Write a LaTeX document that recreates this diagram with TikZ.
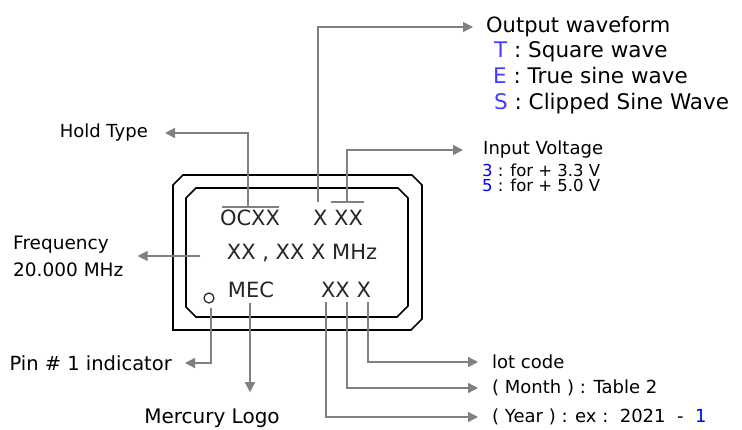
\documentclass[tikz,border=0pt]{standalone}
\usepackage{fontspec}
\setmainfont{DejaVu Sans}
\usepackage{xcolor}
\usepackage{tikz}
\usetikzlibrary{positioning,arrows.meta}
\definecolor{leadgray}{RGB}{128,128,128}
\definecolor{codeblue}{RGB}{70,60,255}
\definecolor{digitblue}{RGB}{0,0,255}

\begin{document}
\begin{tikzpicture}[x=1pt, y=-1pt,
		lead/.style={draw=leadgray, line width=1.4pt},
		tip/.style={lead, -{Triangle[length=10pt, width=10pt]}},
		case/.style={draw=black, line width=1.7pt},
		chiptxt/.style={inner sep=0pt, text=black!85, font=\fontsize{21}{21}\selectfont},
		lbl/.style={inner sep=0pt, font=\fontsize{18}{18}\selectfont},
	]
		\useasboundingbox (0, 0) rectangle (742, 430);

		% 外壳
		\draw[case] (173, 330) -- (173, 185) -- (183, 175) -- (412, 175) -- (422, 185) -- (422, 319) -- (411, 330) -- cycle;
		\draw[case] (186, 307) -- (186, 198) -- (196, 188) -- (398, 188) -- (408, 198) -- (408, 306) -- (397, 317) -- (196, 317) -- cycle;

		% 印字
		\node[chiptxt] (model) at (250, 218) {OCXX};
		\node[chiptxt] (wave) at (338, 218) {X XX};
		\node[chiptxt] (freq) at (302, 253) {XX , XX X MHz};
		\node[chiptxt] (logo) at (251, 290) {MEC};
		\node[chiptxt] (lot) at (346, 290) {XX X};
		\node[draw=black!85, circle, line width=1.2pt, minimum size=10pt, inner sep=0pt] (pin) at (209, 298) {};

		% 标注
		\node[lbl, anchor=east] (hold) at (148, 133) {Hold Type};
		\node[lbl, anchor=west, align=left, font=\fontsize{18.5}{27}\selectfont] (freqlbl) at (13, 256) {Frequency\\20.000 MHz};
		\node[lbl, anchor=east, font=\fontsize{19.5}{20}\selectfont] (pinlbl) at (172, 363) {Pin \# 1 indicator};
		\node[lbl, anchor=base, font=\fontsize{20}{20}\selectfont] (logolbl) at (212, 424) {Mercury Logo};
		\node[lbl, anchor=west] (lotlbl) at (492, 362) {lot code};
		\node[lbl, anchor=west] (month) at (492, 388) {( Month ) : Table 2};
		\node[lbl, anchor=west] (year) at (492, 417) {( Year ) : ex :\ \ 2021\ \ -\ \ \textcolor{digitblue}{1}};
		\node[lbl, anchor=west, font=\fontsize{21}{21}\selectfont] (outlbl) at (486, 27) {Output waveform};
		\node[lbl, anchor=base west, font=\fontsize{21.5}{21}\selectfont] (tsq) at (494, 58) {\textcolor{codeblue}{T} : Square wave};
		\node[lbl, anchor=base west, font=\fontsize{21.5}{21}\selectfont] (esin) at (493, 84) {\textcolor{codeblue}{E} : True sine wave};
		\node[lbl, anchor=base west, font=\fontsize{21.5}{21}\selectfont] (sclip) at (494, 110) {\textcolor{codeblue}{S} : Clipped Sine Wave};
		\node[lbl, anchor=west] (inlbl) at (483, 150) {Input Voltage};
		\node[lbl, anchor=base west, font=\fontsize{16.5}{17}\selectfont] (v33) at (482, 177) {\textcolor{digitblue}{3} : for + 3.3 V};
		\node[lbl, anchor=base west, font=\fontsize{16.5}{17}\selectfont] (v50) at (482, 192) {\textcolor{digitblue}{5} : for + 5.0 V};

		% 引线
		\coordinate (htpt) at (248, 207);
		\coordinate (fqpt) at (200, 256);
		\coordinate (pinpt) at (211, 308);
		\coordinate (logopt) at (250, 303);
		\coordinate (yrpt) at (326, 302);
		\coordinate (monpt) at (347, 302);
		\coordinate (lotpt) at (368, 302);
		\coordinate (wvpt) at (318, 202);
		\coordinate (vinpt) at (347, 202);

		\draw[lead] (222, 207) -- (279, 207);
		\draw[lead] (331, 202) -- (364, 202);

		\draw[tip, shorten >=17pt] (htpt) |- (hold);
		\draw[tip, shorten >=14pt] (fqpt) -- (fqpt -| freqlbl.east);
		\draw[tip, shorten >=13pt] (pinpt) |- (pinlbl);
		\draw[tip, shorten >=17pt] (logopt) -- (logopt |- logolbl.north);
		\draw[tip, shorten >=14pt] (lotpt) |- (lotlbl);
		\draw[tip, shorten >=14pt] (monpt) |- (month);
		\draw[tip, shorten >=14pt] (yrpt) |- (year);
		\draw[tip, shorten >=13pt] (wvpt) |- (outlbl);
		\draw[tip, shorten >=20pt] (vinpt) |- (inlbl);
	\end{tikzpicture}
\end{document}
